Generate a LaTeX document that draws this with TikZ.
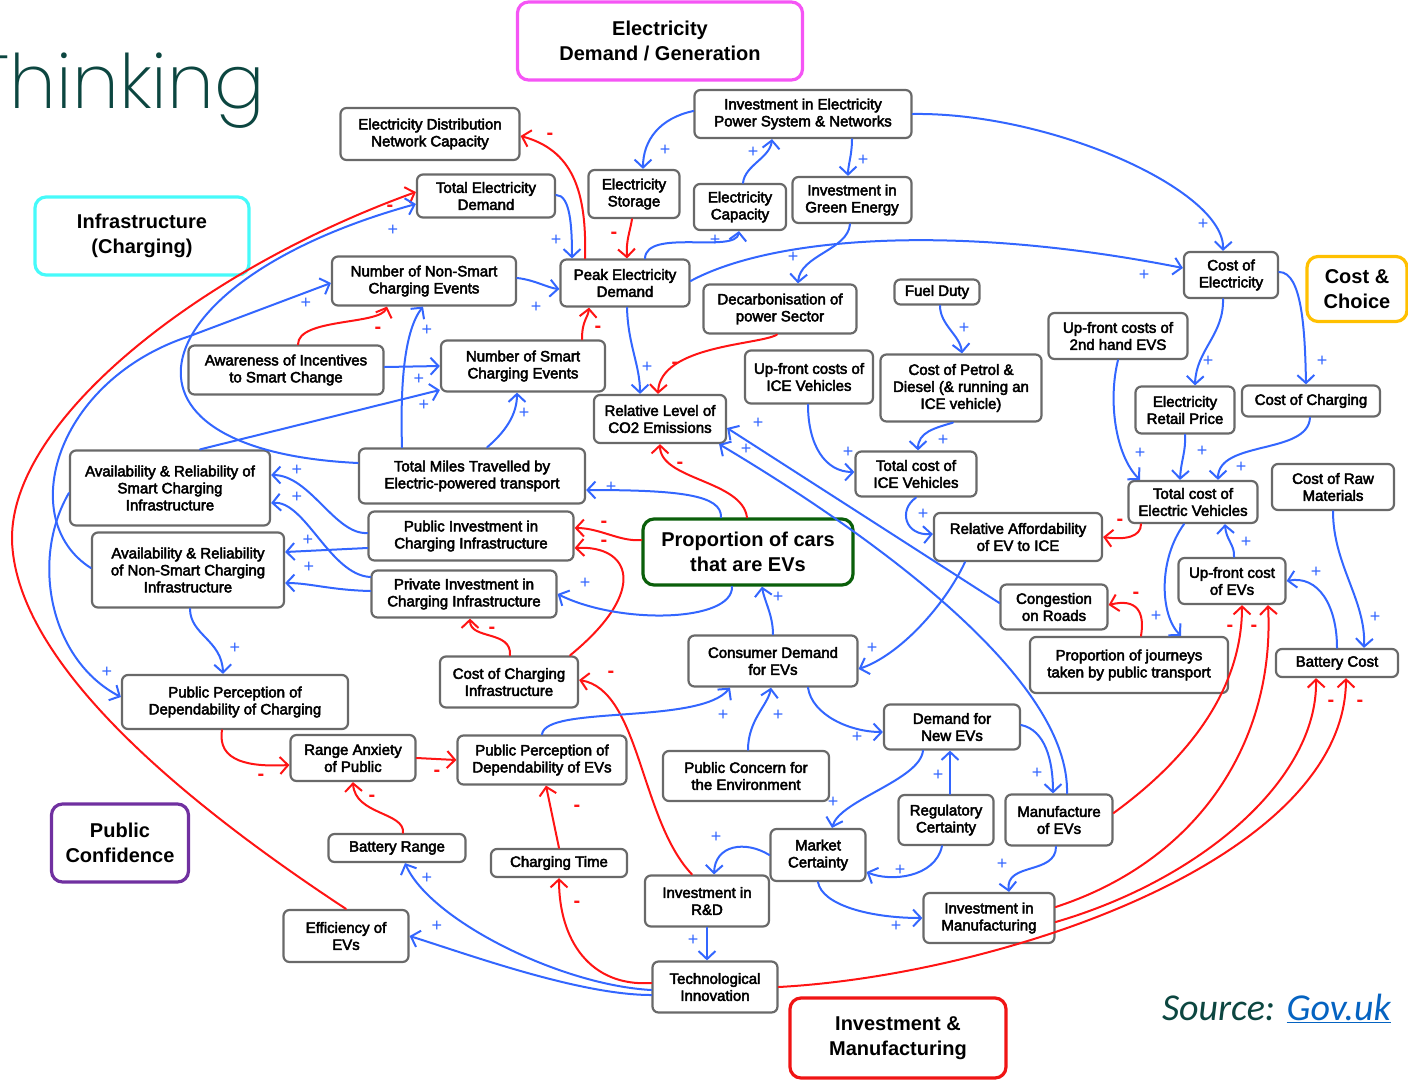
\documentclass[tikz,border=0pt]{standalone}
\usepackage{fontspec}
\setmainfont{Liberation Sans}
\newfontfamily\varfont{Liberation Sans}[FakeBold=3,UprightFont=*,BoldFont=*]
\newfontfamily\thinfont{Poppins ExtraLight}
\newfontfamily\srcfont{Carlito}
\usetikzlibrary{arrows.meta}
\definecolor{lblue}{RGB}{51,102,255}
\definecolor{lred}{RGB}{255,20,20}
\definecolor{boxgray}{RGB}{105,105,105}
\definecolor{magentabox}{RGB}{245,85,245}
\definecolor{cyanbox}{RGB}{70,250,250}
\definecolor{goldbox}{RGB}{255,192,0}
\definecolor{purplebox}{RGB}{112,48,160}
\definecolor{greenbox}{RGB}{10,95,10}
\definecolor{redbox}{RGB}{240,20,20}
\definecolor{tealtext}{RGB}{12,70,64}
\definecolor{linkblue}{RGB}{5,99,193}
\tikzset{
  var/.style={draw=boxgray, line width=2.2pt, rounded corners=6pt, fill=white, align=center, inner sep=0pt, font=\varfont\bfseries\fontsize{15}{17}\selectfont},
  sz/.style 2 args={minimum width=#1pt, minimum height=#2pt},
  grp/.style={draw=#1, line width=3.2pt, rounded corners=11pt, fill=white, align=center, inner sep=0pt, font=\bfseries\fontsize{20}{24.5}\selectfont},
  plink/.style={draw=lblue, line width=2pt, line cap=round, -{Straight Barb[length=8pt,width=17pt]}},
  nlink/.style={draw=lred, line width=2pt, line cap=round, -{Straight Barb[length=8pt,width=17pt]}},
  plab/.style={text=lblue, font=\fontsize{18}{18}\selectfont, inner sep=0pt},
  nlab/.style={text=lred, font=\bfseries\fontsize{20}{20}\selectfont, inner sep=0pt}
}
\begin{document}
\begin{tikzpicture}[x=1pt,y=-1pt]
\useasboundingbox (0,0) rectangle (1408,1080);

% titles
\node[anchor=base east, text=tealtext, font=\thinfont\fontsize{75}{75}\selectfont, inner sep=0pt] (title) at (265,108) {Thinking};
\node[anchor=base east, font=\srcfont\itshape\fontsize{38}{38}\selectfont, inner sep=0pt] (source) at (1391,1020) {\textcolor{tealtext}{Source:} \textcolor{linkblue}{\underline{Gov.uk}}};

% theme boxes
\node[grp=magentabox, sz={285}{78}] (grpelec) at (660,41) {Electricity\\Demand / Generation};
\node[grp=cyanbox, sz={214}{78}] (grpinfra) at (142,236) {Infrastructure\\(Charging)};
\node[grp=goldbox, sz={100}{65}] (grpcost) at (1357,289) {Cost \&\\Choice};
\node[grp=purplebox, sz={137}{78}] (grppub) at (120,843) {Public\\Confidence};
\node[grp=redbox, sz={216}{80}] (grpinv) at (898,1038) {Investment \&\\Manufacturing};
\node[grp=greenbox, sz={210}{66}] (prop) at (748,552) {Proportion of cars\\that are EVs};

% variables
\node[var, sz={179}{52}] (ednc) at (430,134) {Electricity Distribution\\Network Capacity};
\node[var, sz={138}{43}] (ted) at (486,196) {Total Electricity\\Demand};
\node[var, sz={91}{48}] (es) at (634,194) {Electricity\\Storage};
\node[var, sz={217}{48}] (ieps) at (803,114) {Investment in Electricity\\Power System \& Networks};
\node[var, sz={92}{46}] (ec) at (740,207) {Electricity\\Capacity};
\node[var, sz={119}{46}] (ige) at (852,200) {Investment in\\Green Energy};
\node[var, sz={184}{49}] (nns) at (424,281) {Number of Non-Smart\\Charging Events};
\node[var, sz={129}{47}] (ped) at (625,283) {Peak Electricity\\Demand};
\node[var, sz={153}{49}] (dps) at (780,309) {Decarbonisation of\\power Sector};
\node[var, sz={85}{25}] (fd) at (937,292) {Fuel Duty};
\node[var, sz={94}{46}] (coe) at (1231,275) {Cost of\\Electricity};
\node[var, sz={139}{46}] (uf2) at (1118,336) {Up-front costs of\\2nd hand EVS};
\node[var, sz={195}{49}] (ais) at (286,370) {Awareness of Incentives\\to Smart Change};
\node[var, sz={164}{51}] (nsc) at (523,366) {Number of Smart\\Charging Events};
\node[var, sz={128}{53}] (ufice) at (809,377) {Up-front costs of\\ICE Vehicles};
\node[var, sz={161}{67}] (cpd) at (961,388) {Cost of Petrol \&\\Diesel (\& running an\\ICE vehicle)};
\node[var, sz={99}{47}] (erp) at (1185,410) {Electricity\\Retail Price};
\node[var, sz={138}{31}] (coc) at (1311,401) {Cost of Charging};
\node[var, sz={132}{48}] (rlco) at (660,419) {Relative Level of\\CO2 Emissions};
\node[var, sz={121}{45}] (tcice) at (916,474) {Total cost of\\ICE Vehicles};
\node[var, sz={200}{75}] (avs) at (170,488) {Availability \& Reliability of\\Smart Charging\\Infrastructure};
\node[var, sz={226}{55}] (tmt) at (472,476) {Total Miles Travelled by\\Electric-powered transport};
\node[var, sz={129}{42}] (tcev) at (1193,502) {Total cost of\\Electric Vehicles};
\node[var, sz={122}{46}] (crm) at (1333,487) {Cost of Raw\\Materials};
\node[var, sz={168}{48}] (ra) at (1018,537) {Relative Affordability\\of EV to ICE};
\node[var, sz={205}{49}] (pic) at (471,536) {Public Investment in\\Charging Infrastructure};
\node[var, sz={192}{75}] (avns) at (188,570) {Availability \& Reliability\\of Non-Smart Charging\\Infrastructure};
\node[var, sz={185}{47}] (pric) at (464,594) {Private Investment in\\Charging Infrastructure};
\node[var, sz={107}{45}] (cor) at (1054,607) {Congestion\\on Roads};
\node[var, sz={107}{46}] (ufev) at (1232,581) {Up-front cost\\of EVs};
\node[var, sz={169}{51}] (cdev) at (773,661) {Consumer Demand\\for EVs};
\node[var, sz={198}{56}] (pjpt) at (1129,665) {Proportion of journeys\\taken by public transport};
\node[var, sz={122}{28}] (bc) at (1337,663) {Battery Cost};
\node[var, sz={138}{51}] (cci) at (509,682) {Cost of Charging\\Infrastructure};
\node[var, sz={226}{54}] (ppdc) at (235,702) {Public Perception of\\Dependability of Charging};
\node[var, sz={136}{45}] (dnev) at (952,727) {Demand for\\New EVs};
\node[var, sz={125}{46}] (rap) at (353,758) {Range Anxiety\\of Public};
\node[var, sz={169}{49}] (ppdev) at (542,760) {Public Perception of\\Dependability of EVs};
\node[var, sz={166}{50}] (pce) at (746,776) {Public Concern for\\the Environment};
\node[var, sz={95}{50}] (rc) at (946,820) {Regulatory\\Certainty};
\node[var, sz={107}{51}] (moev) at (1059,820) {Manufacture\\of EVs};
\node[var, sz={95}{52}] (mc) at (818,855) {Market\\Certainty};
\node[var, sz={137}{28}] (br) at (397,848) {Battery Range};
\node[var, sz={136}{28}] (ct) at (559,863) {Charging Time};
\node[var, sz={124}{51}] (ird) at (707,901) {Investment in\\R\&D};
\node[var, sz={131}{50}] (im) at (989,918) {Investment in\\Manufacturing};
\node[var, sz={125}{52}] (effev) at (346,936) {Efficiency of\\EVs};
\node[var, sz={125}{51}] (ti) at (715,987) {Technological\\Innovation};

% electricity links
\draw[nlink] ([xshift=-40pt]ped.north) .. controls (587,190) and (572,150) .. ([yshift=-2pt]ednc.east);
\draw[plink] ([yshift=1pt]ted.east) .. controls (570,195) and (572,225) .. ([xshift=-53pt]ped.north);
\draw[nlink] ([xshift=-2pt]es.south) .. controls (630,232) and (626,240) .. ([xshift=2pt]ped.north);
\draw[plink] ([yshift=3pt]ieps.west) .. controls (660,118) and (643,140) .. ([xshift=9pt]es.north);
\draw[plink] ([xshift=3pt]ec.north) .. controls (745,165) and (770,158) .. ([xshift=-31pt]ieps.south);
\draw[plink] ([xshift=49pt]ieps.south) .. controls (852,155) and (848,165) .. ([xshift=-4pt]ige.north);
\draw[plink] ([xshift=20pt]ped.north) .. controls (646,228) and (736,254) .. ([xshift=-1pt]ec.south);
\draw[plink] ([xshift=-2pt]ige.south) .. controls (848,250) and (800,255) .. ([xshift=18pt]dps.north);
\draw[plink] (ieps.east) .. controls (1050,112) and (1225,190) .. ([xshift=-8pt]coe.north);
\draw[plink] ([yshift=2pt]ped.east) .. controls (770,238) and (950,222) .. ([yshift=7pt]coe.west);
\draw[nlink] ([xshift=-3pt]dps.south) .. controls (760,345) and (660,345) .. ([xshift=-2pt]rlco.north);
\draw[plink] ([xshift=2pt]ped.south) .. controls (628,345) and (640,365) .. ([xshift=-20pt]rlco.north);
\draw[plink] ([yshift=3pt]nns.east) .. controls (535,280) and (548,288) .. ([yshift=-6pt]ped.west);
\draw[nlink] ([xshift=59pt]nsc.north) .. controls (582,320) and (588,318) .. ([xshift=-36pt]ped.south);

% cost links
\draw[plink] ([xshift=3pt]fd.south) .. controls (940,325) and (960,335) .. ([xshift=1pt]cpd.north);
\draw[plink] ([xshift=-8pt]cpd.south) .. controls (935,428) and (918,432) .. ([xshift=2pt]tcice.north);
\draw[plink] ([xshift=-1pt]ufice.south) .. controls (808,445) and (825,472) .. ([yshift=2pt]tcice.west);
\draw[plink] (tcice.south) .. controls (898,510) and (905,536) .. ([yshift=3pt]ra.west);
\draw[nlink] ([xshift=-52pt]tcev.south) .. controls (1141,537) and (1125,540) .. (ra.east);
\draw[plink] ([xshift=-8pt]coe.south) .. controls (1224,335) and (1196,350) .. ([xshift=10pt]erp.north);
\draw[plink] ([yshift=3pt]coe.east) .. controls (1302,272) and (1305,330) .. ([xshift=-5pt]coc.north);
\draw[plink] (uf2.south) .. controls (1108,400) and (1115,455) .. ([xshift=-53pt]tcev.north);
\draw[plink] (erp.south) .. controls (1186,452) and (1181,460) .. ([xshift=-13pt]tcev.north);
\draw[plink] ([xshift=-1pt]coc.south) .. controls (1308,455) and (1218,440) .. ([xshift=25pt]tcev.north);
\draw[plink] ([xshift=2pt]ufev.north) .. controls (1235,545) and (1226,540) .. ([xshift=32pt]tcev.south);
\draw[plink] (bc.north) .. controls (1337,605) and (1318,575) .. (ufev.east);
\draw[plink] (crm.south) .. controls (1333,565) and (1366,600) .. ([xshift=27pt]bc.north);
\draw[plink] ([xshift=-9pt]tcev.south) .. controls (1158,560) and (1160,615) .. ([xshift=52pt]pjpt.north);
\draw[nlink] ([xshift=12pt]pjpt.north) .. controls (1145,612) and (1137,598) .. ([yshift=2pt]cor.east);
\draw[plink] ([yshift=4pt]cor.west) -- ([yshift=-9pt]rlco.east);
\draw[plink] ([xshift=8pt]moev.north) .. controls (1070,680) and (880,540) .. ([xshift=-8pt]rlco.south east);
\draw[plink] ([xshift=-53pt]ra.south) .. controls (945,605) and (900,655) .. ([yshift=-8pt]cdev.east);

% proportion of EVs
\draw[nlink] ([xshift=-1pt]prop.north) .. controls (742,480) and (660,480) .. (rlco.south);
\draw[plink] ([xshift=-27pt]prop.north) .. controls (722,495) and (680,490) .. ([yshift=-14pt]tmt.east);
\draw[nlink] ([yshift=12pt]prop.west) .. controls (620,542) and (600,528) .. ([yshift=8pt]pic.east);
\draw[nlink] ([xshift=61pt]cci.north) .. controls (650,590) and (630,545) .. ([yshift=-12pt]pic.east);
\draw[plink] ([xshift=-16pt]prop.south) .. controls (733,622) and (620,625) .. (pric.east);
\draw[plink] (cdev.north) .. controls (773,615) and (764,600) .. ([xshift=14pt]prop.south);
\draw[nlink] ([xshift=1pt]cci.north) .. controls (512,630) and (470,640) .. ([xshift=6pt]pric.south);
\draw[nlink] ([xshift=-15pt]ird.north) .. controls (640,820) and (640,690) .. ([yshift=2pt]cci.east);

% infrastructure
\draw[nlink] (effev.north) .. controls (150,780) and (15,650) .. (12,540) .. controls (10,420) and (200,270) .. ([yshift=4pt]ted.west);
\draw[plink] ([yshift=13pt]tmt.west) .. controls (90,450) and (140,280) .. ([yshift=-8pt]ted.west);
\draw[plink] ([yshift=2pt]avns.west) .. controls (15,520) and (55,380) .. (190,336) -- ([yshift=-2pt]nns.west);
\draw[plink] ([xshift=30pt]avs.north) -- ([yshift=-24pt]nsc.west);
\draw[plink] ([yshift=-5pt]avs.west) .. controls (30,560) and (50,660) .. ([yshift=5pt]ppdc.west);
\draw[plink] ([yshift=3pt]pic.west) .. controls (335,535) and (310,475) .. ([yshift=13pt]avs.east);
\draw[plink] ([yshift=17pt]pric.west) .. controls (330,575) and (305,500) .. ([yshift=-15pt]avs.east);
\draw[plink] ([yshift=-12pt]pic.west) -- ([yshift=18pt]avns.east);
\draw[plink] ([yshift=3pt]pric.west) .. controls (330,590) and (310,583) .. ([yshift=-13pt]avns.east);
\draw[plink] ([xshift=2pt]avns.south) .. controls (190,635) and (222,640) .. ([xshift=-12pt]ppdc.north);
\draw[nlink] ([xshift=12pt]ais.north) .. controls (298,318) and (380,325) .. ([xshift=-37pt]nns.south);
\draw[plink] ([yshift=3pt]ais.east) -- (nsc.west);
\draw[plink] ([xshift=-70pt]tmt.north) .. controls (400,380) and (405,330) .. ([xshift=-1pt]nns.south);
\draw[plink] ([xshift=15pt]tmt.north) .. controls (505,432) and (517,415) .. ([xshift=-6pt]nsc.south);

% public confidence
\draw[nlink] (ct.north) -- ([xshift=4pt]ppdev.south);
\draw[nlink] (rap.east) -- (ppdev.west);
\draw[nlink] ([xshift=-13pt]ppdc.south) .. controls (217,762) and (250,767) .. ([yshift=-7pt]rap.west);
\draw[nlink] ([xshift=6pt]br.north) .. controls (405,812) and (355,815) .. (rap.south);
\draw[plink] (ppdev.north) .. controls (545,705) and (700,725) .. ([xshift=-43pt]cdev.south);
\draw[plink] ([xshift=2pt]pce.north) .. controls (748,720) and (768,705) .. ([xshift=-2pt]cdev.south);
\draw[plink] ([xshift=35pt]cdev.south) .. controls (812,715) and (850,732) .. ([yshift=-5pt]dnev.west);

% investment and manufacturing
\draw[plink] ([xshift=-29pt]dnev.south) .. controls (920,780) and (840,800) .. ([xshift=14pt]mc.north);
\draw[plink] ([xshift=4pt]rc.north) -- ([xshift=-2pt]dnev.south);
\draw[plink] ([yshift=2pt]dnev.east) .. controls (1045,730) and (1053,760) .. ([xshift=-6pt]moev.north);
\draw[plink] ([xshift=-4pt]rc.south) .. controls (935,878) and (890,882) .. ([yshift=-17pt]mc.east);
\draw[plink] (mc.west) .. controls (745,840) and (715,845) .. ([xshift=7pt]ird.north);
\draw[plink] (ird.south) -- ([xshift=-8pt]ti.north);
\draw[plink] (mc.south) .. controls (822,905) and (870,918) .. (im.west);
\draw[plink] ([xshift=-3pt]moev.south) .. controls (1056,875) and (1005,862) .. ([xshift=20pt]im.north);
\draw[nlink] ([yshift=7pt]moev.east) .. controls (1200,750) and (1242,680) .. ([xshift=10pt]ufev.south);
\draw[nlink] ([yshift=11pt]im.east) .. controls (1200,860) and (1275,740) .. ([xshift=36pt]ufev.south);
\draw[nlink] ([yshift=-4pt]im.east) .. controls (1200,880) and (1318,780) .. ([xshift=-21pt]bc.south);
\draw[nlink] (ti.east) .. controls (1000,975) and (1345,860) .. ([xshift=9pt]bc.south);
\draw[nlink] ([yshift=4pt]ti.west) .. controls (590,987) and (559,940) .. (ct.south);
\draw[plink] ([yshift=-3pt]ti.west) .. controls (560,985) and (430,920) .. ([xshift=8pt]br.south);
\draw[plink] ([yshift=-8pt]ti.west) .. controls (580,995) and (470,955) .. (effev.east);

% polarity marks
\foreach \px/\py [count=\i] in {556/240, 665/150, 753/152, 863/160, 715/240, 793/257, 1203/224, 1144/275, 647/367, 964/328, 943/440, 848/452, 923/514, 1208/361, 1322/361, 1140/453, 1202/451, 1241/467, 1246/542, 1316/572, 1375/617, 1156/616, 758/423, 746/449, 872/648, 611/487, 585/583, 778/597, 427/878, 437/926, 393/230, 306/303, 424/405, 107/672, 297/470, 297/497, 308/540, 309/567, 235/648, 419/379, 427/330, 524/413, 536/307, 857/737, 778/715, 723/715, 833/802, 938/775, 1037/773, 900/870, 716/837, 693/940, 896/926, 1002/864}
  \node[plab] (plus\i) at (\px,\py) {+};
\foreach \px/\py [count=\i] in {550/136, 614/235, 675/365, 1120/522, 1136/595, 680/465, 604/524, 604/543, 492/630, 611/674, 577/904, 577/808, 437/773, 261/777, 372/798, 390/208, 378/330, 598/329, 1230/628, 1254/628, 1331/703, 1360/703}
  \node[nlab] (minus\i) at (\px,\py) {-};
\end{tikzpicture}
\end{document}
